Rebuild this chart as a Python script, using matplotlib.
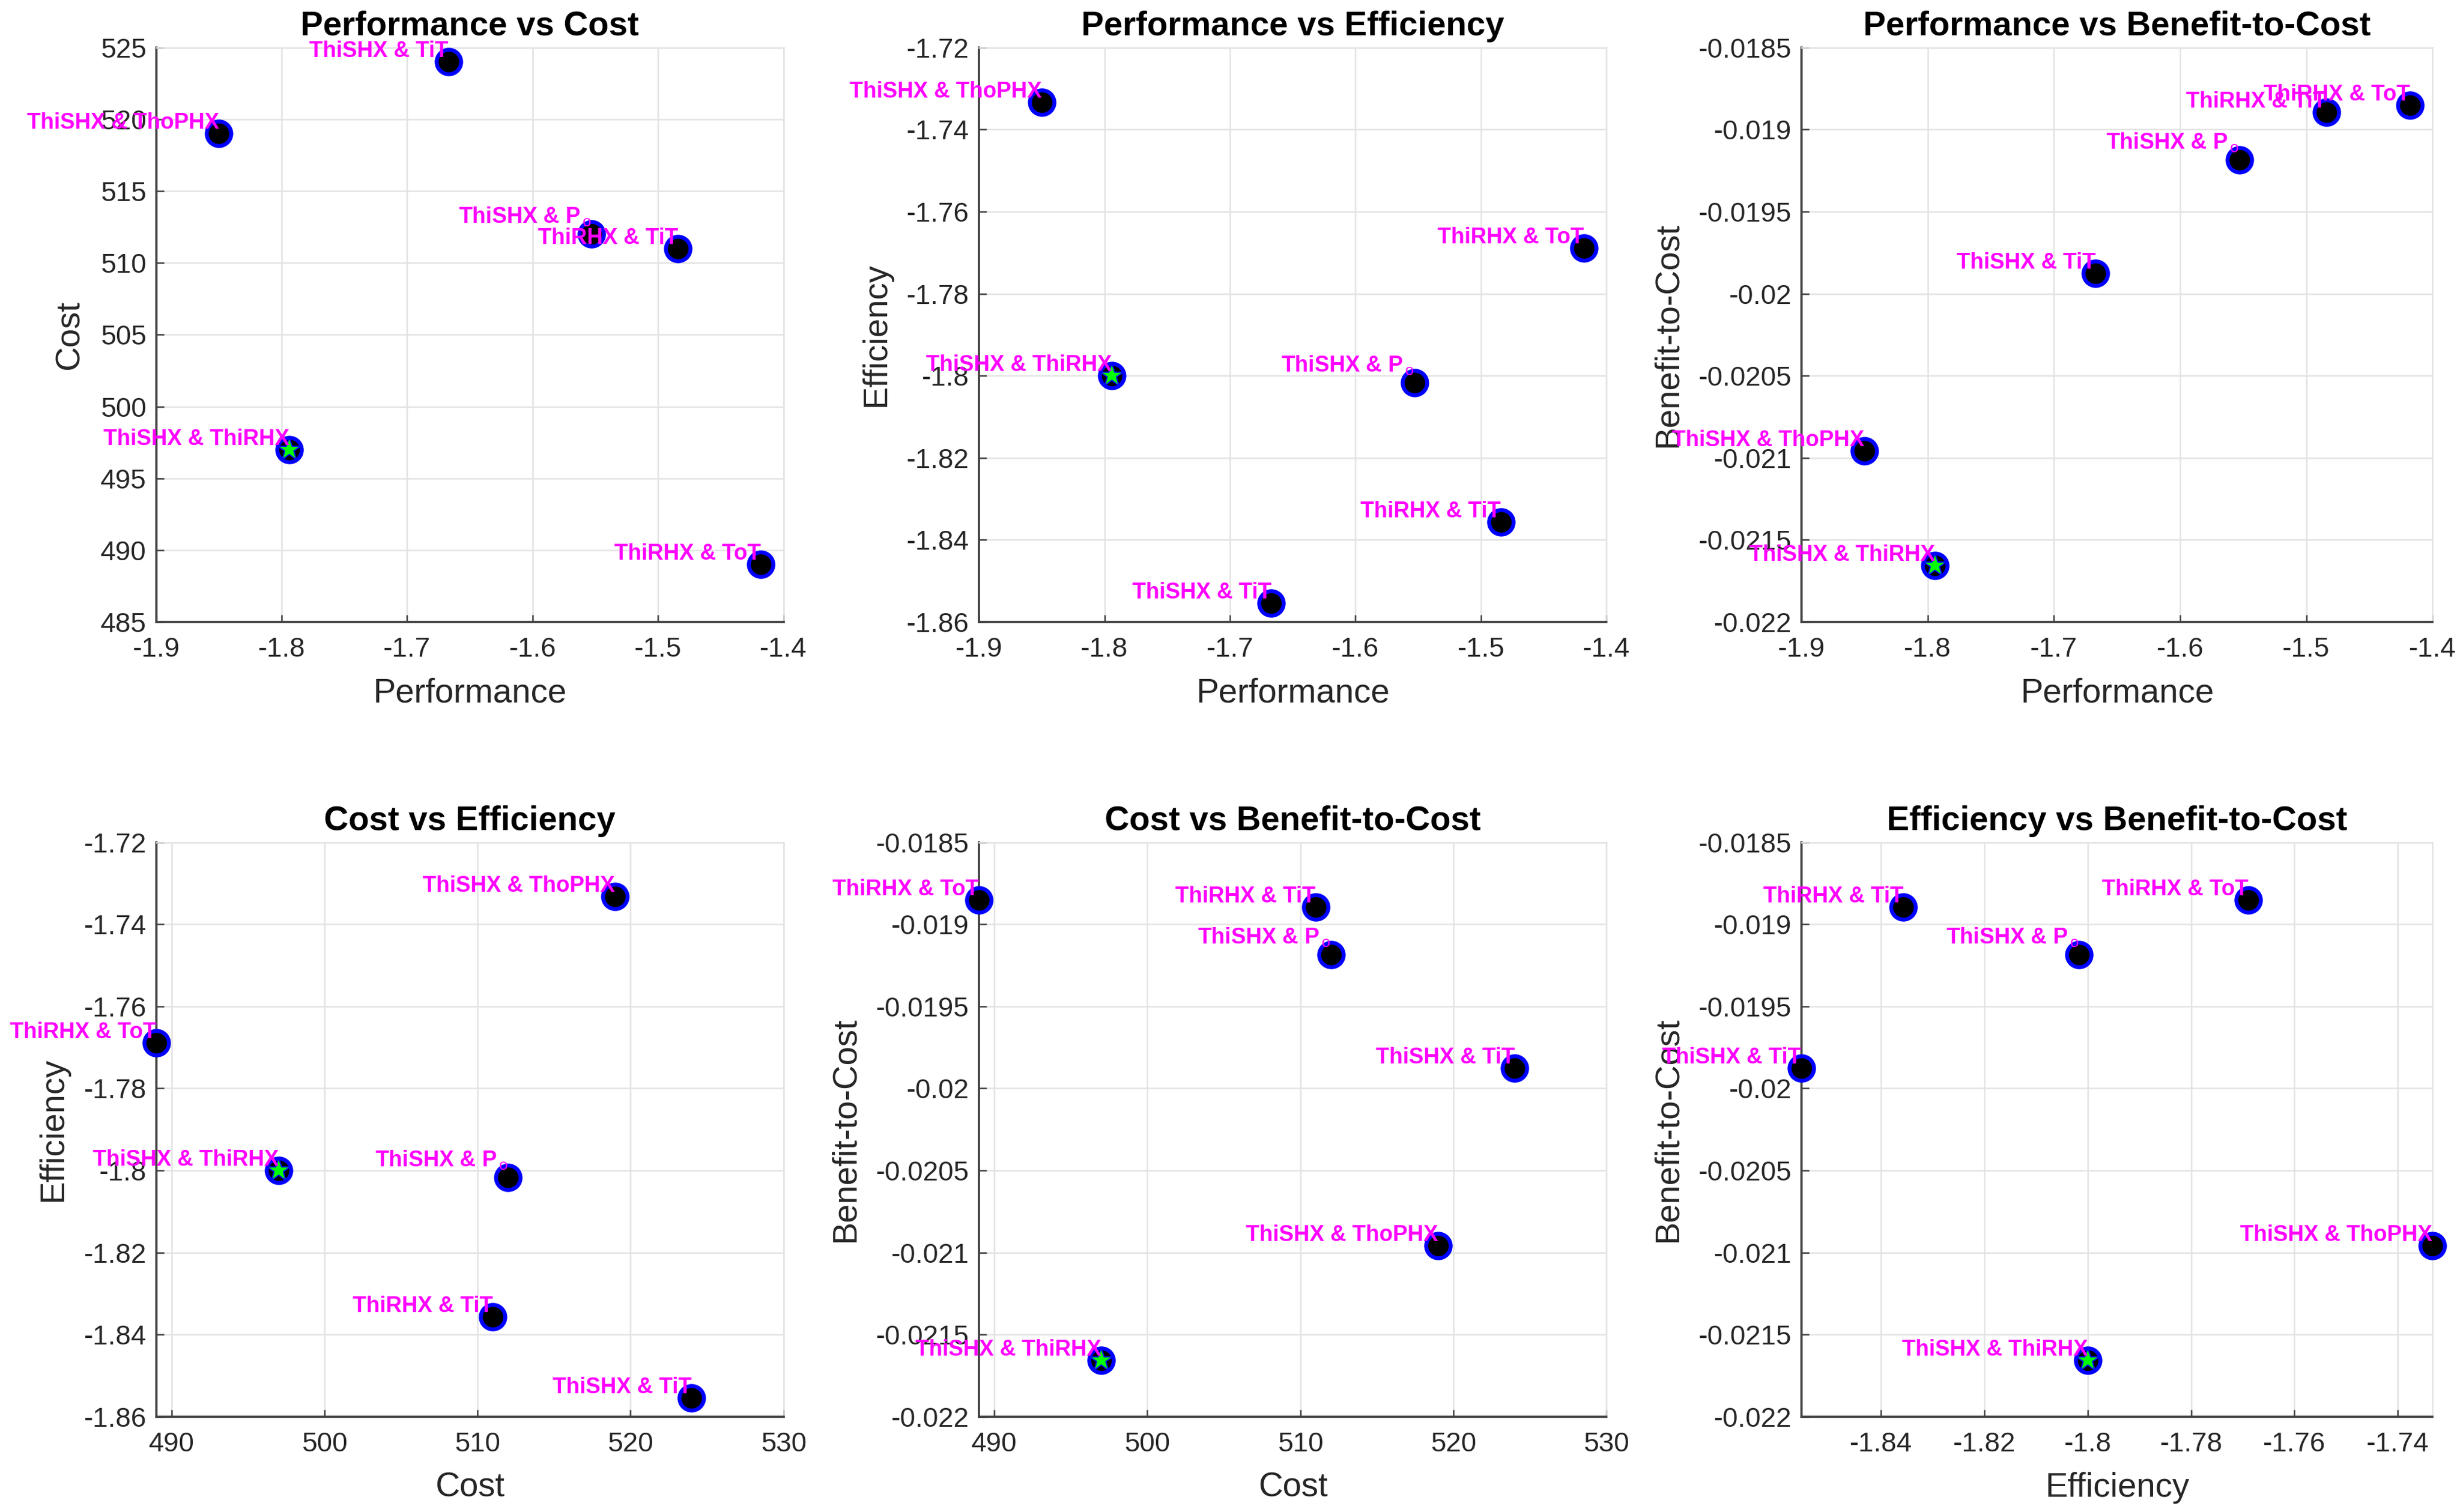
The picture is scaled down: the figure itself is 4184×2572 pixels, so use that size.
import matplotlib.pyplot as plt

plt.rcParams['font.family'] = ['Liberation Sans', 'DejaVu Sans']
plt.rcParams['axes.unicode_minus'] = False
plt.rcParams['mathtext.fontset'] = 'custom'
plt.rcParams['mathtext.rm'] = 'Liberation Sans'
plt.rcParams['mathtext.bf'] = 'Liberation Sans:bold'

# datos
labels = ["ThiSHX & TiT", "ThiSHX & ThoPHX", r"ThiSHX & $\mathbf{P}_{\,\mathrm{o}}$",
          "ThiRHX & TiT", "ThiSHX & ThiRHX", "ThiRHX & ToT"]
performance = [-1.667, -1.850, -1.553, -1.484, -1.794, -1.418]
cost = [524.0, 519.0, 512.0, 511.0, 497.0, 489.0]
efficiency = [-1.8554, -1.7333, -1.8017, -1.8357, -1.8000, -1.7689]
benefit_cost = [-0.019876, -0.020958, -0.019186, -0.018896, -0.021656, -0.018853]
best = 4  # ThiSHX & ThiRHX

perf_ticks = [-1.9, -1.8, -1.7, -1.6, -1.5, -1.4]
cost_ticks_y = [485, 490, 495, 500, 505, 510, 515, 520, 525]
cost_ticks_x = [490, 500, 510, 520, 530]
eff_ticks_y = [-1.86, -1.84, -1.82, -1.80, -1.78, -1.76, -1.74, -1.72]
eff_ticks_x = [-1.84, -1.82, -1.80, -1.78, -1.76, -1.74]
btc_ticks = [-0.022, -0.0215, -0.021, -0.0205, -0.02, -0.0195, -0.019, -0.0185]

panels = [
    (performance, cost, "Performance vs Cost", "Performance", "Cost",
     perf_ticks, cost_ticks_y, (-1.9, -1.4), (485, 525)),
    (performance, efficiency, "Performance vs Efficiency", "Performance", "Efficiency",
     perf_ticks, eff_ticks_y, (-1.9, -1.4), (-1.86, -1.72)),
    (performance, benefit_cost, "Performance vs Benefit-to-Cost", "Performance", "Benefit-to-Cost",
     perf_ticks, btc_ticks, (-1.9, -1.4), (-0.022, -0.0185)),
    (cost, efficiency, "Cost vs Efficiency", "Cost", "Efficiency",
     cost_ticks_x, eff_ticks_y, (min(cost), 530), (-1.86, -1.72)),
    (cost, benefit_cost, "Cost vs Benefit-to-Cost", "Cost", "Benefit-to-Cost",
     cost_ticks_x, btc_ticks, (min(cost), 530), (-0.022, -0.0185)),
    (efficiency, benefit_cost, "Efficiency vs Benefit-to-Cost", "Efficiency", "Benefit-to-Cost",
     eff_ticks_x, btc_ticks, (min(efficiency), max(efficiency)), (-0.022, -0.0185)),
]

fig = plt.figure(figsize=(4184 / 300, 2572 / 300))
fig.patch.set_facecolor('white')

lefts = [0.0635, 0.398, 0.7323]
widths = [0.255, 0.255, 0.2565]
bottoms = [0.5886, 0.063]
height = 0.380

for i, (xs, ys, title, xl, yl, xt, yt, xlim, ylim) in enumerate(panels):
    row, col = divmod(i, 3)
    ax = fig.add_axes([lefts[col], bottoms[row], widths[col], height])

    ax.plot(xs, ys, 'o', ms=10, mfc='black', mec='blue', mew=1.6,
            ls='none', zorder=3, clip_on=False)
    ax.plot(xs[best], ys[best], '*', ms=10, mfc=(0, 1, 0), mec='blue',
            mew=0.5, zorder=4, clip_on=False)

    # etiquetas: esquina inferior derecha en el punto
    for lab, x, y in zip(labels, xs, ys):
        dy = 2.4 if '$' in lab else 0
        ax.annotate(lab, (x, y), xytext=(0, dy), textcoords='offset points',
                    ha='right', va='bottom', color='magenta', fontsize=9.0,
                    fontweight='bold', annotation_clip=False, zorder=5)

    ax.set_xlim(*xlim)
    ax.set_ylim(*ylim)
    ax.set_xticks(xt)
    ax.set_yticks(yt)
    ax.set_xticklabels([f"{v:g}" for v in xt])
    ax.set_yticklabels([f"{v:g}" for v in yt])

    ax.set_title(title, fontsize=13.8, fontweight='bold', color='black', pad=5)
    ax.set_xlabel(xl, fontsize=13.8, color='#262626', labelpad=6)
    ax.set_ylabel(yl, fontsize=13.8, color='#262626', labelpad=6)

    ax.grid(True, color='#e3e3e3', linewidth=0.6)
    ax.set_axisbelow(True)
    for s in ['left', 'bottom']:
        ax.spines[s].set_color('#404040')
        ax.spines[s].set_linewidth(0.9)
    for s in ['top', 'right']:
        ax.spines[s].set_color('#e3e3e3')
        ax.spines[s].set_linewidth(0.6)
    ax.tick_params(axis='both', direction='in', length=3, width=0.6,
                   colors='#404040', labelcolor='#262626', labelsize=11.2,
                   top=False, right=False)
    ax.tick_params(axis='x', pad=6)
    ax.tick_params(axis='y', pad=4)

fig.savefig('out.png', dpi=300)
